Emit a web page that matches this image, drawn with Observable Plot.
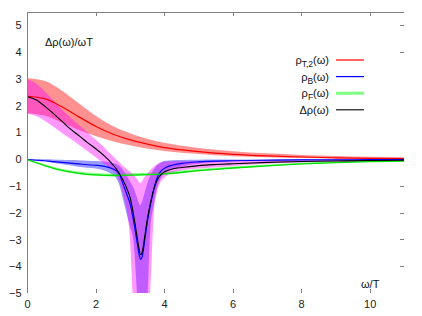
<!DOCTYPE html>
<html>
<head>
<meta charset="utf-8">
<script src="https://cdn.jsdelivr.net/npm/d3@7"></script>
<script src="https://cdn.jsdelivr.net/npm/@observablehq/plot@0.6"></script>
<style>
  html, body { margin: 0; padding: 0; background: #fff; }
  #chart svg { display: block; }
</style>
</head>
<body>
<div id="chart"></div>
<script>
// ---- coarse grid: ρT,2 and ρF ----
const wCoarse = [0, 0.5, 1, 1.5, 2, 2.5, 3, 3.5, 4, 5, 6, 7, 8, 9, 10, 11];
const rhoT    = [2.37, 2.28, 1.98, 1.60, 1.24, 0.95, 0.74, 0.58, 0.45, 0.30, 0.20, 0.14, 0.10, 0.07, 0.05, 0.04];
const rhoTHi  = [3.02, 2.93, 2.58, 2.10, 1.62, 1.24, 0.97, 0.76, 0.61, 0.42, 0.30, 0.22, 0.16, 0.12, 0.09, 0.07];
const rhoTLo  = [1.72, 1.63, 1.38, 1.10, 0.87, 0.67, 0.52, 0.40, 0.31, 0.19, 0.11, 0.07, 0.04, 0.02, 0.01, 0.01];
const rhoF    = [0, -0.22, -0.40, -0.51, -0.57, -0.59, -0.58, -0.56, -0.53, -0.41, -0.31, -0.23, -0.16, -0.11, -0.07, -0.05];
const rhoFHi  = [0, -0.19, -0.36, -0.46, -0.52, -0.54, -0.53, -0.51, -0.48, -0.37, -0.27, -0.20, -0.13, -0.09, -0.05, -0.03];
const rhoFLo  = [0, -0.25, -0.44, -0.56, -0.62, -0.64, -0.63, -0.61, -0.58, -0.45, -0.35, -0.26, -0.19, -0.13, -0.09, -0.07];

// ---- dense grid: ρB and Δρ ----
const wDense = [0, 0.25, 0.5, 0.75, 1, 1.25, 1.5, 1.75, 2, 2.25, 2.5, 2.6, 2.7, 2.8, 2.9, 3.0, 3.1, 3.2, 3.25, 3.3, 3.35, 3.4, 3.5, 3.6, 3.7, 3.8, 3.9, 4.0, 4.25, 4.5, 5, 5.5, 6, 7, 8, 9, 10, 11];
const drho    = [2.35, 2.24, 2.0, 1.73, 1.44, 1.15, 0.90, 0.64, 0.40, 0.13, -0.20, -0.36, -0.56, -0.80, -1.08, -1.45, -2.10, -2.90, -3.30, -3.55, -3.45, -3.05, -2.20, -1.55, -1.05, -0.72, -0.55, -0.45, -0.34, -0.29, -0.22, -0.18, -0.15, -0.10, -0.07, -0.05, -0.03, -0.02];
const drhoHi  = [2.99, 2.85, 2.55, 2.22, 1.88, 1.58, 1.30, 1.02, 0.74, 0.45, 0.12, 0.0, -0.12, -0.25, -0.36, -0.46, -0.58, -0.72, -0.82, -0.90, -0.85, -0.72, -0.55, -0.40, -0.28, -0.18, -0.12, -0.10, -0.08, -0.08, -0.07, -0.06, -0.05, -0.03, -0.02, -0.01, 0.0, 0.0];
const drhoLo  = [1.71, 1.62, 1.45, 1.23, 1.0, 0.78, 0.55, 0.32, 0.08, -0.18, -0.42, -0.55, -0.85, -1.3, -1.85, -2.9, -5.5, -6.5, -7, -7, -7, -6.5, -6, -4.8, -2.0, -1.2, -0.85, -0.7, -0.5, -0.42, -0.35, -0.3, -0.25, -0.17, -0.12, -0.09, -0.06, -0.04];
const rhoB    = [0, -0.02, -0.04, -0.07, -0.10, -0.13, -0.16, -0.19, -0.21, -0.25, -0.35, -0.42, -0.60, -0.95, -1.30, -1.68, -2.32, -3.10, -3.50, -3.72, -3.60, -3.20, -2.30, -1.60, -1.02, -0.62, -0.42, -0.32, -0.20, -0.14, -0.08, -0.05, -0.04, -0.02, -0.01, -0.01, 0, 0];
const rhoBHi  = [0, 0, 0, -0.01, -0.02, -0.03, -0.04, -0.06, -0.07, -0.09, -0.14, -0.18, -0.25, -0.40, -0.60, -0.82, -1.05, -1.40, -1.60, -1.72, -1.62, -1.40, -0.95, -0.60, -0.38, -0.22, -0.12, -0.07, -0.04, -0.03, -0.02, -0.01, -0.01, 0, 0, 0, 0, 0];
const rhoBLo  = [0, -0.04, -0.08, -0.13, -0.18, -0.23, -0.28, -0.32, -0.35, -0.42, -0.58, -0.70, -0.98, -1.5, -2.0, -2.5, -3.0, -4.8, -6, -6, -6, -6, -5.5, -2.6, -1.7, -1.05, -0.72, -0.55, -0.38, -0.28, -0.16, -0.11, -0.08, -0.05, -0.03, -0.02, -0.01, -0.01];

const xTicks = [0, 2, 4, 6, 8, 10];
const yTicks = [-5, -4, -3, -2, -1, 0, 1, 2, 3, 4, 5];

const coarse = wCoarse.map((w, i) => ({w, t: rhoT[i], tHi: rhoTHi[i], tLo: rhoTLo[i], f: rhoF[i], fHi: rhoFHi[i], fLo: rhoFLo[i]}));
const dense = wDense.map((w, i) => ({w, d: drho[i], dHi: drhoHi[i], dLo: drhoLo[i], b: rhoB[i], bHi: rhoBHi[i], bLo: rhoBLo[i]}));

const curve = "monotone-x";
const FONT = "'Liberation Sans', Arial, sans-serif";

const chart = Plot.plot({
  width: 422,
  height: 316,
  marginLeft: 27,
  marginRight: 18,
  marginTop: 12,
  marginBottom: 23,
  style: {fontFamily: FONT, fontSize: "11px", color: "#222", background: "#fff"},
  x: {domain: [0, 11]},
  y: {domain: [-5, 5.5]},
  marks: [
    Plot.areaY(coarse, {x: "w", y1: "tLo", y2: "tHi", fill: "#ff0000", fillOpacity: 0.43, curve, clip: true}),
    Plot.areaY(dense, {x: "w", y1: "bLo", y2: "bHi", fill: "#0000ff", fillOpacity: 0.4, curve, clip: true}),
    Plot.areaY(coarse, {x: "w", y1: "fLo", y2: "fHi", fill: "#00ff00", fillOpacity: 0.45, curve, clip: true}),
    Plot.areaY(dense, {x: "w", y1: "dLo", y2: "dHi", fill: "#ff00ff", fillOpacity: 0.4, curve, clip: true}),
    Plot.line(coarse, {x: "w", y: "t", stroke: "#ff0000", strokeWidth: 1.2, curve, clip: true}),
    Plot.line(dense, {x: "w", y: "b", stroke: "#0000ff", strokeWidth: 1.2, curve, clip: true}),
    Plot.line(coarse, {x: "w", y: "f", stroke: "#00e000", strokeWidth: 1.3, curve, clip: true}),
    Plot.line(dense, {x: "w", y: "d", stroke: "#000000", strokeWidth: 1.1, curve, clip: true}),
    Plot.axisX({ticks: xTicks, tickSize: 0, tickPadding: 7, label: null, fill: "#222"}),
    Plot.axisY({ticks: yTicks, tickSize: 0, tickPadding: 6, label: null, fill: "#222"}),
    Plot.ruleX([0], {stroke: "#808080", strokeWidth: 1}),
    Plot.ruleY([5.5], {stroke: "#808080", strokeWidth: 1})
  ]
});

const svg = d3.select(chart);
const sx = chart.scale("x"), sy = chart.scale("y");
const x1 = sx.apply(11), yTop = sy.apply(5.5), yBot = sy.apply(-5);

// inward tick marks (top, bottom, right)
const tg = svg.append("g").attr("stroke", "#808080").attr("stroke-width", 1);
[2, 4, 6, 8, 10].forEach(v => {
  const px = Math.round(sx.apply(v)) + 0.5;
  tg.append("line").attr("x1", px).attr("x2", px).attr("y1", yTop).attr("y2", yTop + 4);
  tg.append("line").attr("x1", px).attr("x2", px).attr("y1", yBot).attr("y2", yBot - 4);
});
[5, 4, -1, -2, -3, -4].forEach(v => {
  const py = Math.round(sy.apply(v)) + 0.5;
  tg.append("line").attr("x1", x1).attr("x2", x1 - 4).attr("y1", py).attr("y2", py);
});

// axis titles
svg.append("text").attr("x", 45).attr("y", 46).attr("text-anchor", "start")
  .attr("font-family", FONT).attr("font-size", 11).attr("fill", "#111").text("Δρ(ω)/ωT");
svg.append("text").attr("x", 361).attr("y", 288).attr("text-anchor", "start")
  .attr("font-family", FONT).attr("font-size", 11).attr("fill", "#111").text("ω/T");

// legend
const legend = [
  {main: "ρ", sub: "T,2", tail: "(ω)", color: "#ff0000", w: 1.2},
  {main: "ρ", sub: "B", tail: "(ω)", color: "#0000ff", w: 1.2},
  {main: "ρ", sub: "F", tail: "(ω)", color: "#80ff80", w: 3},
  {main: "Δρ(ω)", sub: null, tail: null, color: "#000000", w: 1.1}
];
const lg = svg.append("g").attr("font-family", FONT).attr("font-size", 11).attr("fill", "#111");
legend.forEach((d, i) => {
  const y = 60 + i * 16.6;
  const t = lg.append("text").attr("x", 329).attr("y", y + 4).attr("text-anchor", "end");
  t.append("tspan").text(d.main);
  if (d.sub) {
    t.append("tspan").attr("dy", 3).attr("font-size", 8.5).text(d.sub);
    t.append("tspan").attr("dy", -3).text(d.tail);
  }
  lg.append("line").attr("x1", 336).attr("x2", 364).attr("y1", y).attr("y2", y)
    .attr("stroke", d.color).attr("stroke-width", d.w);
});

document.getElementById("chart").appendChild(chart);
</script>
</body>
</html>
